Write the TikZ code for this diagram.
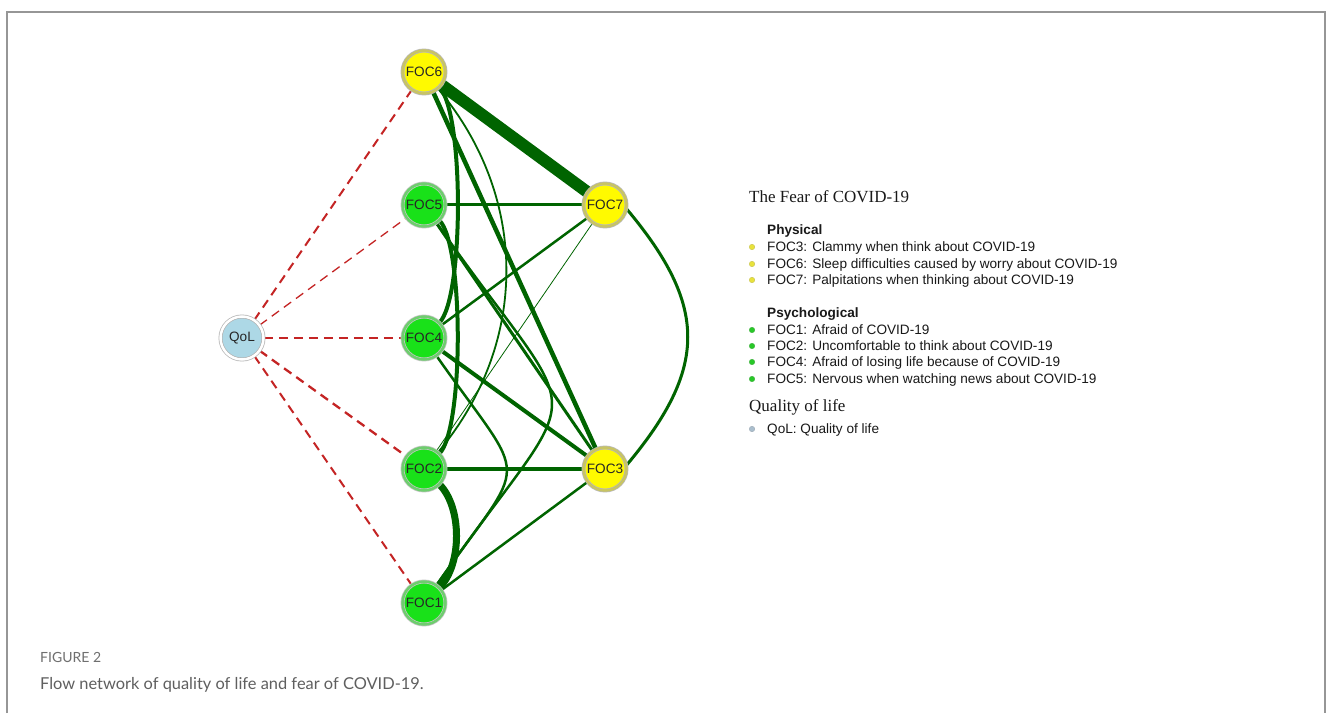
\documentclass[tikz,border=0pt]{standalone}
\usepackage{fontspec}
\setmainfont{Liberation Sans}
\newfontfamily\serifont{Liberation Serif}
\newfontfamily\capfont{Lato}
\usetikzlibrary{backgrounds}
\definecolor{edgegreen}{RGB}{0,100,0}
\definecolor{qolred}{RGB}{196,36,36}
\definecolor{nodeyellow}{RGB}{255,250,0}
\definecolor{nodegreen}{RGB}{25,225,25}
\definecolor{nodeblue}{RGB}{173,216,230}
\definecolor{ringyellow}{RGB}{200,196,100}
\definecolor{ringgreen}{RGB}{110,205,110}
\definecolor{framegray}{RGB}{150,150,150}
\definecolor{captiongray}{RGB}{95,95,95}
\definecolor{dotyellow}{RGB}{232,226,60}
\definecolor{dotgreen}{RGB}{40,200,40}
\definecolor{dotblue}{RGB}{170,190,205}
\tikzset{
  fnode/.style={circle, inner sep=0pt, minimum size=43pt, font=\fontsize{13.6}{14}\selectfont, text=black!85, line width=0.7pt, double distance=2.5pt},
  yel/.style={fnode, fill=nodeyellow, draw=gray!55, double=ringyellow},
  grn/.style={fnode, fill=nodegreen, draw=gray!45, double=ringgreen},
  blu/.style={fnode, fill=nodeblue, draw=gray!60, double=white},
  posedge/.style={draw=edgegreen},
  negedge/.style={draw=qolred, dash pattern=on 9pt off 6pt},
  legtext/.style={anchor=base west, inner sep=0pt, font=\fontsize{13.6}{16}\selectfont, text=black!90},
  leghead/.style={anchor=base west, inner sep=0pt, font=\serifont\fontsize{17}{20}\selectfont, text=black!90},
  legsub/.style={anchor=base west, inner sep=0pt, font=\bfseries\fontsize{13.6}{16}\selectfont, text=black!90},
  legdot/.style={circle, inner sep=0pt, minimum size=5.5pt, draw=#1!70!gray, line width=0.4pt, fill=#1},
}
\begin{document}
\begin{tikzpicture}[x=1pt, y=1pt]
\useasboundingbox (0,0) rectangle (1330,713);

% nodes
\node[yel] (FOC6) at (424,641) {FOC6};
\node[grn] (FOC5) at (424,508) {FOC5};
\node[grn] (FOC4) at (424,375) {FOC4};
\node[grn] (FOC2) at (424,244) {FOC2};
\node[grn] (FOC1) at (424,110) {FOC1};
\node[yel] (FOC7) at (605,508) {FOC7};
\node[yel] (FOC3) at (605,244) {FOC3};
\node[blu] (QoL) at (242,375) {QoL};

\begin{scope}[on background layer]
 \fill[white] (0,0) rectangle (1330,713);
 \draw[framegray, line width=1.2pt] (7,0) -- (7,701) -- (1325,701) -- (1325,0);
 \draw[negedge, line width=2pt] (QoL) -- (FOC6);
 \draw[negedge, line width=1.3pt] (QoL) -- (FOC5);
 \draw[negedge, line width=2pt] (QoL) -- (FOC4);
 \draw[negedge, line width=2.3pt] (QoL) -- (FOC2);
 \draw[negedge, line width=2pt] (QoL) -- (FOC1);
 \draw[posedge, line width=12pt] (FOC6) -- (FOC7);
 \draw[posedge, line width=4.5pt] (FOC6) -- (FOC3);
 \draw[posedge, line width=3pt] (FOC5) -- (FOC7);
 \draw[posedge, line width=3pt] (FOC5) -- (FOC3);
 \draw[posedge, line width=2.5pt] (FOC4) -- (FOC7);
 \draw[posedge, line width=4pt] (FOC4) -- (FOC3);
 \draw[posedge, line width=0.8pt] (FOC2) -- (FOC7);
 \draw[posedge, line width=4.5pt] (FOC2) -- (FOC3);
 \draw[posedge, line width=2.5pt] (FOC1) -- (FOC3);
 \draw[posedge, line width=7pt] (FOC2) to[out=-45,in=45,looseness=0.8] (FOC1);
 \draw[posedge, line width=4pt] (FOC6) to[out=-45,in=45,looseness=0.38] (FOC4);
 \draw[posedge, line width=4pt] (FOC5) to[out=-45,in=45,looseness=0.38] (FOC2);
 \draw[posedge, line width=1.8pt] (FOC6) to[out=-50,in=50,looseness=1.0] (FOC2);
 \draw[posedge, line width=2.5pt] (FOC5) to[out=-55,in=55,looseness=1.9] (FOC1);
 \draw[posedge, line width=2.5pt] (FOC4) to[out=-55,in=55,looseness=1.83] (FOC1);
 \draw[posedge, line width=3pt] (FOC7.-10) .. controls +(-50:127) and +(50:127) .. (FOC3.10);
\end{scope}

% legend
\node[leghead] (h1) at (749,510.4) {The Fear of COVID-19};
\node[legsub] (s1) at (767,478.2) {Physical};
\node[legdot=dotyellow] (d3) at (752,466) {};
\node[legtext] (t3) at (767,461.2) {FOC3: Clammy when think about COVID-19};
\node[legdot=dotyellow] (d6) at (752,449) {};
\node[legtext] (t6) at (767,444.2) {FOC6: Sleep difficulties caused by worry about COVID-19};
\node[legdot=dotyellow] (d7) at (752,433) {};
\node[legtext] (t7) at (767,428.2) {FOC7: Palpitations when thinking about COVID-19};
\node[legsub] (s2) at (767,395.2) {Psychological};
\node[legdot=dotgreen] (d1) at (752,383) {};
\node[legtext] (t1) at (767,378.2) {FOC1: Afraid of COVID-19};
\node[legdot=dotgreen] (d2) at (752,367) {};
\node[legtext] (t2) at (767,362.2) {FOC2: Uncomfortable to think about COVID-19};
\node[legdot=dotgreen] (d4) at (752,351) {};
\node[legtext] (t4) at (767,346.2) {FOC4: Afraid of losing life because of COVID-19};
\node[legdot=dotgreen] (d5) at (752,334) {};
\node[legtext] (t5) at (767,329.2) {FOC5: Nervous when watching news about COVID-19};
\node[leghead] (h2) at (749,301.4) {Quality of life};
\node[legdot=dotblue] (dq) at (752,284) {};
\node[legtext] (tq) at (767,279.2) {QoL: Quality of life};

% caption
\node[anchor=base west, inner sep=0pt, font=\capfont\fontsize{14}{16}\selectfont, text=captiongray!90] (fig) at (40,51) {FIGURE 2};
\node[anchor=base west, inner sep=0pt, font=\capfont\fontsize{16.4}{18}\selectfont, text=captiongray] (cap) at (40,24) {Flow network of quality of life and fear of COVID-19.};
\end{tikzpicture}
\end{document}
